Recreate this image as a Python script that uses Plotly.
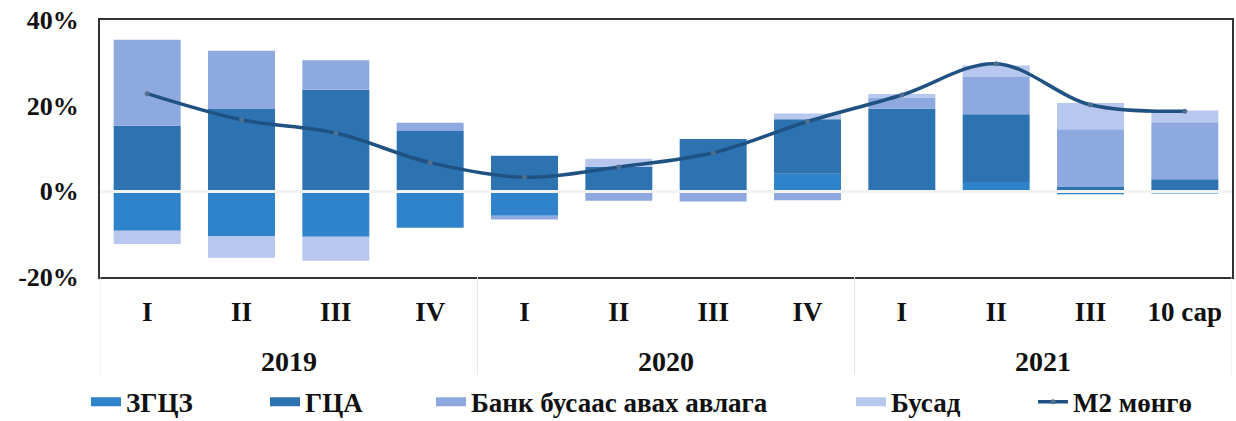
import plotly.graph_objects as go

# ---- data ----
quarters = ["I", "II", "III", "IV", "I", "II", "III", "IV", "I", "II", "III", "10 сар"]
years = ["2019", "2020", "2021"]
year_counts = [4, 4, 4]

zgtsz = [-9.2, -10.4, -10.6, -8.5, -5.7, 0.0, 0.0, 4.1, 0.0, 2.2, -0.7, -0.5]      # ЗГЦЗ
gta = [15.3, 19.2, 23.7, 14.1, 8.3, 5.7, 12.2, 12.7, 19.3, 15.8, 1.0, 2.8]          # ГЦА
bank = [20.1, 13.6, 6.9, 1.9, -0.9, -2.2, -2.4, -2.1, 2.6, 8.7, 13.5, 13.3]         # Банк бусаас авах авлага
busad = [-3.1, -5.1, -5.6, 0.0, 0.0, 1.9, 0.0, 1.4, 0.8, 2.7, 6.1, 2.8]             # Бусад
m2 = [22.8, 16.7, 13.6, 6.7, 3.3, 5.7, 9.0, 16.3, 22.5, 29.8, 20.2, 18.7]           # M2 мөнгө

y_ticks = [-20, 0, 20, 40]

# ---- styling ----
FONT = "Liberation Serif"
C_ZG = "#2F83CA"
C_GTA = "#2D73B2"
C_BANK = "#8EA9DF"
C_BUSAD = "#B7C7EE"
C_LINE = "#1F5283"
TXT = "#111111"

x = list(range(len(quarters)))

fig = go.Figure()
series = [
    ("ЗГЦЗ", zgtsz, C_ZG),
    ("ГЦА", gta, C_GTA),
    ("Банк бусаас авах авлага", bank, C_BANK),
    ("Бусад", busad, C_BUSAD),
]
for name, vals, col in series:
    fig.add_trace(go.Bar(x=x, y=vals, name=name, marker=dict(color=col, line=dict(width=0)),
                         showlegend=False))

fig.add_trace(go.Scatter(x=x, y=m2, name="M2 мөнгө", mode="lines+markers",
                         line=dict(color=C_LINE, width=3.5, shape="spline"),
                         marker=dict(size=5, color="#50708F"),
                         legend="legend5"))

# legend proxies (swatches)
legend_names = ["legend", "legend2", "legend3", "legend4"]
for (name, vals, col), lg in zip(series, legend_names):
    fig.add_trace(go.Scatter(x=[None], y=[None], mode="lines", name=name,
                             line=dict(color=col, width=9), legend=lg))

text_starts = [125, 304, 470, 890, 1072]
plot_l, plot_w = 100, 1132
leg_font = dict(family=FONT, size=27, color=TXT, weight="bold")
layout_legends = {}
for i, ts in enumerate(text_starts):
    key = "legend" if i == 0 else f"legend{i+1}"
    layout_legends[key] = dict(x=(ts - 39 - plot_l) / plot_w, xanchor="left",
                               y=-0.487, yanchor="middle", orientation="h",
                               font=leg_font, bgcolor="rgba(0,0,0,0)",
                               borderwidth=0, itemwidth=30)

# year group annotations and dividers
annotations = []
shapes = []
start = 0
bounds = [-0.5]
for yr, cnt in zip(years, year_counts):
    center = start + (cnt - 1) / 2
    annotations.append(dict(x=center, y=-0.33, xref="x", yref="paper", text=yr,
                            showarrow=False, yanchor="middle",
                            font=dict(family=FONT, size=28, color=TXT, weight="bold")))
    start += cnt
    bounds.append(start - 0.5)
for b in bounds:
    shapes.append(dict(type="line", xref="x", yref="paper", x0=b, x1=b, y0=0, y1=-0.38,
                       line=dict(color="#E2E2E2", width=1)))

fig.update_layout(
    width=1236, height=421,
    margin=dict(l=100, r=4, t=20, b=144, autoexpand=False),
    paper_bgcolor="white", plot_bgcolor="white",
    barmode="relative", bargap=0.29,
    annotations=annotations, shapes=shapes,
    **layout_legends,
)
fig.update_xaxes(
    range=[-0.5, len(quarters) - 0.5], tickvals=x, ticktext=quarters,
    showgrid=False, zeroline=False, ticks="",
    showline=True, mirror=True, linecolor="#333333", linewidth=2,
    tickfont=dict(family=FONT, size=27, color=TXT, weight="bold"),
    ticklabelstandoff=10,
)
fig.update_yaxes(
    range=[-20, 40], tickvals=y_ticks, ticktext=[f"{v}%" for v in y_ticks],
    showgrid=False, ticks="",
    zeroline=True, zerolinecolor="#F3F3F3", zerolinewidth=3, zerolinelayer="above traces",
    showline=True, mirror=True, linecolor="#333333", linewidth=2,
    tickfont=dict(family=FONT, size=26, color=TXT, weight="bold"),
    ticklabelstandoff=14,
)

fig.write_html(
    "out.html",
    config={"displayModeBar": False},
    post_script="document.body.style.margin='0';document.body.style.overflow='hidden';",
)
